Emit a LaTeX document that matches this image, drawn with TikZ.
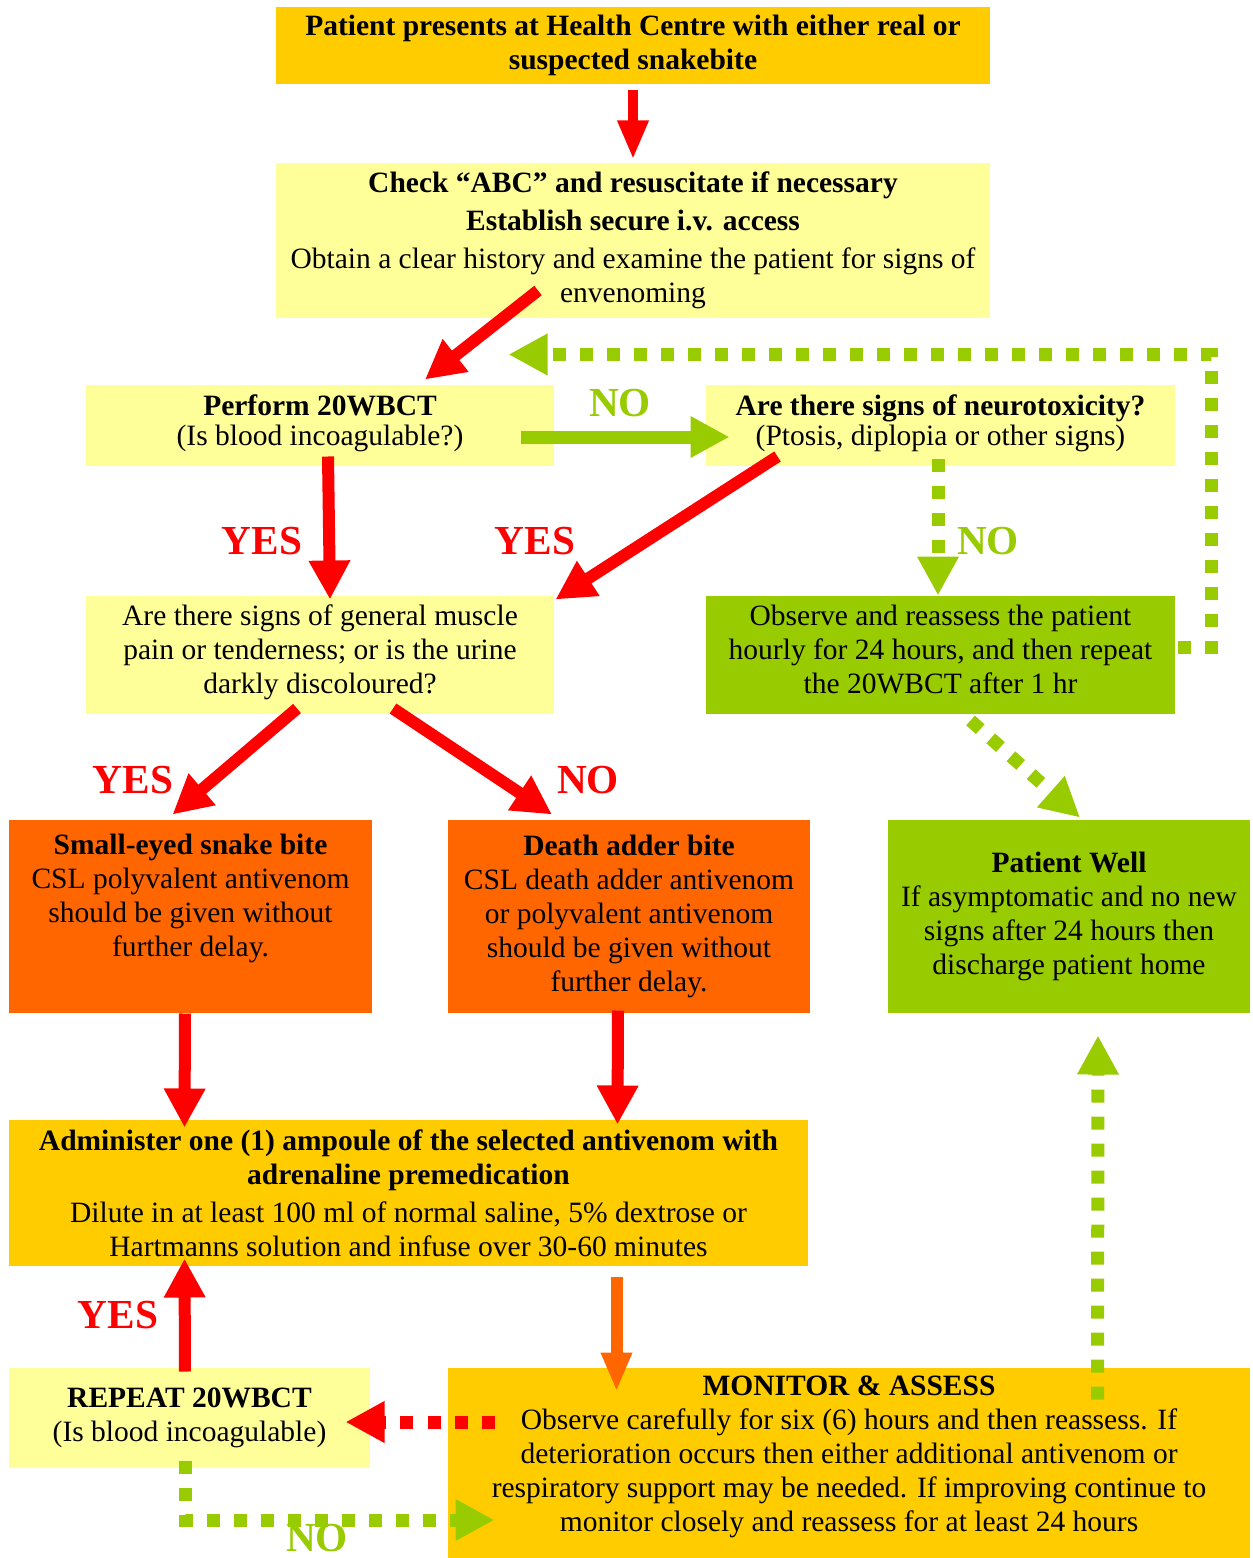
\documentclass[tikz,border=0pt]{standalone}
\usepackage{fontspec}
\setmainfont{Liberation Serif}
\usetikzlibrary{arrows.meta,calc}

\definecolor{amber}{HTML}{FFCC00}
\definecolor{paleyel}{HTML}{FFFF99}
\definecolor{leaf}{HTML}{99CC00}
\definecolor{tang}{HTML}{FF6600}

\begin{document}
\begin{tikzpicture}[
  x=0.4pt, y=-0.4pt,
  font=\fontsize{11.8}{13.6}\selectfont,
  amberbox/.style={fill=amber, align=center, inner sep=0pt},
  palebox/.style={fill=paleyel, align=center, inner sep=0pt},
  leafbox/.style={fill=leaf, align=center, inner sep=0pt},
  tangbox/.style={fill=tang, align=center, inner sep=0pt},
  redarr/.style={draw=red, line width=4.8pt, -{Triangle[length=15.6pt,width=15.6pt]}},
  orgarr/.style={draw=tang, line width=4.8pt, -{Triangle[length=15.6pt,width=11.5pt]}},
  grnarr/.style={draw=leaf, line width=5.2pt, -{Triangle[length=15.6pt,width=15.6pt]}},
  dotarr/.style={draw=leaf, line width=5.2pt, dash pattern=on 5.2pt off 5.6pt, -{Triangle[length=15.6pt,width=15.6pt]}},
  reddot/.style={dotarr, draw=red},
  lbl/.style={font=\fontsize{16.5}{19}\bfseries\selectfont, inner sep=0pt},
]
\useasboundingbox[fill=white] (0,0) rectangle (1252,1558);

% boxes
\node[amberbox, minimum width=285.6pt, minimum height=30.8pt] (top) at (633,45.5)
  {\textbf{Patient presents at Health Centre with either real or}\\\textbf{suspected snakebite}};
\node[palebox, minimum width=285.6pt, minimum height=62pt] (check) at (633,240.5)
  {\textbf{Check “ABC” and resuscitate if necessary}\\[1.6pt]\textbf{Establish secure i.v. access}\\[1.6pt]Obtain a clear history and examine the patient for signs of\\envenoming};
\node[palebox, minimum width=187.2pt, minimum height=32.4pt] (perform) at (320,425.5)
  {\textbf{Perform 20WBCT}\\[-1.5pt](Is blood incoagulable?)\\[-9pt]\mbox{}};
\node[palebox, minimum width=187.6pt, minimum height=32.4pt] (neuro) at (940.5,425.5)
  {\textbf{Are there signs of neurotoxicity?}\\[-1.5pt](Ptosis, diplopia or other signs)\\[-9pt]\mbox{}};
\node[palebox, minimum width=187.2pt, minimum height=47.2pt] (muscle) at (320,655)
  {Are there signs of general muscle\\pain or tenderness; or is the urine\\darkly discoloured?\\[-9pt]\mbox{}};
\node[leafbox, minimum width=187.6pt, minimum height=47.2pt] (observe) at (940.5,655)
  {Observe and reassess the patient\\hourly for 24 hours, and then repeat\\the 20WBCT after 1 hr\\[-9pt]\mbox{}};
\node[tangbox, minimum width=145.2pt, minimum height=77.2pt] (small) at (190.5,916.5)
  {\textbf{Small-eyed snake bite}\\CSL polyvalent antivenom\\should be given without\\further delay.\\[3pt]\mbox{}};
\node[tangbox, minimum width=144.8pt, minimum height=77.2pt] (death) at (629,916.5)
  {\textbf{Death adder bite}\\CSL death adder antivenom\\or polyvalent antivenom\\should be given without\\further delay.};
\node[leafbox, minimum width=144.8pt, minimum height=77.2pt] (well) at (1069,916.5)
  {\textbf{Patient Well}\\If asymptomatic and no new\\signs after 24 hours then\\discharge patient home};
\node[amberbox, minimum width=319.6pt, minimum height=58.4pt] (admin) at (408.5,1193)
  {\textbf{Administer one (1) ampoule of the selected antivenom with}\\\textbf{adrenaline premedication}\\[1.6pt]Dilute in at least 100 ml of normal saline, 5\% dextrose or\\Hartmanns solution and infuse over 30-60 minutes};
\node[palebox, minimum width=144.4pt, minimum height=40pt] (repeat) at (189.5,1418)
  {\textbf{REPEAT 20WBCT}\\(Is blood incoagulable)};
\node[amberbox, minimum width=320.8pt, minimum height=76pt] (monitor) at (849,1463)
  {\textbf{MONITOR \& ASSESS}\\Observe carefully for six (6) hours and then reassess. If\\deterioration occurs then either additional antivenom or\\respiratory support may be needed. If improving continue to\\monitor closely and reassess for at least 24 hours\\[-6pt]\mbox{}};

% labels
\node[lbl, text=leaf] (noA) at (620,403) {NO};
\node[lbl, text=red] (yesA) at (262,541) {YES};
\node[lbl, text=red] (yesB) at (535,541) {YES};
\node[lbl, text=leaf] (noB) at (988,541) {NO};
\node[lbl, text=red] (yesC) at (133,780) {YES};
\node[lbl, text=red] (noC) at (588,780) {NO};
\node[lbl, text=red] (yesD) at (118,1315) {YES};
\node[lbl, text=leaf, text depth=0pt] (noD) at (317,1538) {NO};

% connectors
\draw[redarr, line width=4pt, -{Triangle[length=15.6pt,width=11.5pt]}] ($(top.south)+(0,6)$) -- ($(check.north)+(0,-3)$);
\draw[redarr] ($(check.south)+(-95,-28)$) -- ($(perform.north)+(105,-5)$);
\draw[redarr] ($(perform.south)+(8,-10)$) -- ($(muscle.north)+(10,4)$);
\draw[redarr] ($(neuro.south west)+(72,-10)$) -- ($(muscle.north east)+(1,4)$);
\draw[grnarr] ($(perform.east)+(-34,11.5)$) -- ($(neuro.west)+(24,11.5)$);
\draw[dotarr] ($(neuro.south)+(-2.5,-8)$) -- ($(observe.north)+(-2.5,0)$);
\draw[dotarr] ($(observe.east)+(2,-8)$) -- ++(34,0) |- ($(perform.north east)+(-46,-30)$);
\draw[dotarr] ($(observe.south)+(30,6)$) -- ($(well.north)+(11,-2)$);
\draw[redarr] ($(muscle.south)+(-23,-6)$) -- ($(small.north)+(-18,-5)$);
\draw[redarr] ($(muscle.south)+(73,-6)$) -- ($(death.north)+(-77,-5)$);
\draw[redarr] ($(small.south)+(-5.5,0)$) -- ($(admin.north west)+(176,8)$);
\draw[redarr] ($(death.south)+(-11,-3)$) -- ($(admin.north west)+(609,5)$);
\draw[orgarr] ($(admin.south west)+(608,10)$) -- ($(monitor.north west)+(169,24)$);
\draw[redarr] ($(repeat.north)+(-4.5,4)$) -- ($(admin.south west)+(176,-8)$);
\draw[reddot] ($(monitor.west)+(47,-41)$) -- ($(repeat.east)+(-25,4)$);
\draw[dotarr] ($(repeat.south)+(-4.5,-8)$) |- ($(monitor.west)+(47,57)$);
\draw[dotarr] ($(monitor.north west)+(650,32)$) -- ($(well.south)+(29,22)$);
\end{tikzpicture}
\end{document}
